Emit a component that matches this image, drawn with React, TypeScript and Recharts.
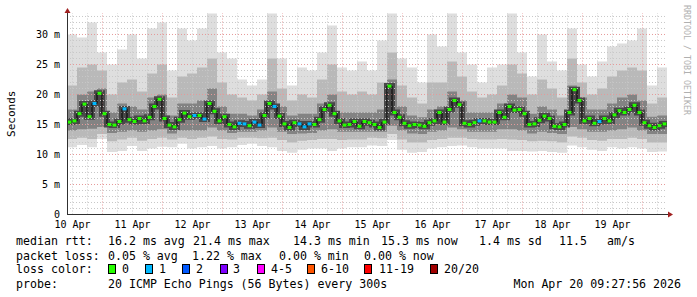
import { ComposedChart, Area, Line, XAxis, YAxis, ReferenceLine } from "recharts";

// median rtt (ms), one value per 2 hour bin, 10 days
const medianRtt = [
  15.4, 15.6, 16.8, 18.4, 16.3, 18.5, 20.2, 16.8, 15.0, 14.9, 15.5, 17.6, 15.8, 15.5, 16.0, 15.6, 16.2, 18.0, 19.2, 16.0,
  14.9, 14.6, 15.8, 16.9, 16.3, 16.5, 16.5, 15.9, 18.5, 17.2, 15.6, 16.3, 15.0, 14.6, 15.2, 15.1, 14.8, 15.4, 14.9, 16.5,
  18.5, 18.0, 16.4, 15.1, 14.5, 15.3, 15.1, 14.6, 15.1, 15.0, 15.8, 17.5, 18.2, 16.8, 15.6, 14.9, 15.0, 15.5, 14.7, 15.5,
  15.3, 15.0, 14.5, 15.4, 21.4, 17.0, 16.2, 15.2, 14.8, 15.0, 14.9, 14.7, 15.3, 15.6, 17.0, 15.4, 17.5, 19.0, 18.3, 15.2,
  15.0, 15.3, 15.6, 15.6, 15.4, 15.4, 17.0, 16.2, 18.0, 17.4, 17.5, 16.8, 15.0, 15.1, 15.7, 16.4, 16.0, 14.7, 14.6, 15.0,
  17.0, 20.8, 19.0, 15.6, 16.0, 15.2, 15.5, 16.0, 15.6, 16.6, 17.3, 17.0, 17.5, 18.2, 17.0, 15.3, 14.8, 14.5, 14.8, 15.1,
];

// bins where 1 of 20 pings was lost
const oneLossBins = [5, 11, 25, 27, 34, 35, 37, 38, 41, 46, 47, 48, 82, 106];

// smoke, one value per 4 hour bin
const smokeMin = [
  11.2, 11.6, 11.2, 12.6, 10.4, 10.6, 11.4, 10.6, 11.0, 11.3, 11.2, 11.8, 11.0, 11.2, 11.4, 11.0, 11.2, 11.6, 11.8, 11.4,
  11.2, 10.6, 10.3, 10.8, 11.0, 11.0, 10.6, 11.0, 11.2, 11.2, 11.5, 11.4, 12.4, 10.8, 10.3, 10.4, 11.0, 11.2, 11.4, 11.5,
  11.2, 11.0, 11.0, 11.0, 10.6, 10.6, 10.5, 10.6, 10.4, 10.3, 11.5, 11.2, 10.8, 10.6, 11.2, 11.0, 11.2, 11.0, 10.4, 10.5,
];
const smokeLow = [
  12.6, 12.8, 12.6, 13.4, 12.2, 12.5, 12.8, 12.3, 12.6, 12.8, 12.5, 12.8, 12.6, 12.8, 13.0, 12.6, 12.5, 12.8, 12.8, 12.7,
  12.8, 12.4, 12.0, 12.3, 12.4, 12.6, 12.6, 12.4, 12.5, 12.5, 12.8, 12.7, 13.4, 12.5, 12.0, 12.0, 12.4, 12.6, 12.8, 12.8,
  12.6, 12.5, 12.5, 12.6, 12.5, 12.4, 12.2, 12.3, 12.2, 12.0, 13.0, 12.8, 12.4, 12.3, 12.6, 12.6, 12.8, 12.6, 12.0, 12.0,
];
const smokeDarkLow = [
  14.0, 14.2, 14.3, 14.6, 13.6, 13.8, 14.0, 13.8, 14.0, 14.2, 13.5, 14.0, 14.0, 14.0, 14.5, 14.0, 13.6, 13.8, 13.8, 14.0,
  14.5, 13.8, 13.4, 13.5, 13.6, 14.0, 14.2, 13.8, 13.8, 13.8, 13.8, 13.8, 14.8, 14.0, 13.5, 13.4, 13.8, 14.0, 14.5, 14.2,
  13.8, 13.8, 13.8, 14.2, 14.2, 14.0, 13.5, 13.8, 13.6, 13.4, 14.6, 14.2, 13.8, 13.8, 14.0, 14.2, 14.5, 14.0, 13.4, 13.4,
];
const smokeDarkTop = [
  17.5, 20.0, 20.5, 21.0, 17.0, 18.5, 18.0, 17.5, 19.5, 20.0, 16.5, 18.5, 18.5, 19.0, 21.0, 18.0, 16.8, 16.8, 16.5, 17.5,
  20.5, 18.0, 16.5, 16.8, 16.8, 18.5, 20.0, 17.0, 17.0, 17.0, 17.0, 17.5, 22.5, 18.0, 16.5, 16.2, 17.5, 18.0, 20.5, 19.0,
  17.0, 17.0, 17.0, 18.5, 20.0, 19.5, 16.8, 18.0, 17.5, 16.5, 21.5, 19.5, 17.5, 17.5, 18.5, 19.5, 20.0, 19.0, 16.3, 16.5,
];
const smokeMidTop = [
  21.5, 24.5, 25.0, 24.0, 20.0, 22.0, 22.5, 20.5, 23.5, 25.0, 19.5, 23.0, 23.5, 24.5, 26.0, 22.0, 20.0, 19.5, 19.0, 20.0,
  26.0, 21.0, 19.0, 20.0, 19.5, 22.5, 25.0, 20.5, 20.0, 20.5, 20.0, 22.0, 27.0, 21.5, 19.5, 18.5, 22.0, 22.0, 25.5, 23.0,
  20.5, 19.5, 20.0, 21.5, 25.0, 23.5, 20.0, 22.5, 21.0, 19.5, 26.0, 22.0, 20.0, 21.0, 23.0, 24.0, 24.5, 24.0, 18.5, 19.5,
];
const smokeMax = [
  30.0, 29.5, 32.0, 27.0, 25.0, 27.5, 30.0, 26.0, 31.0, 32.0, 24.0, 31.0, 29.0, 31.0, 33.5, 27.0, 26.0, 22.5, 21.5, 22.5,
  33.5, 26.0, 21.5, 24.5, 24.0, 27.0, 31.5, 24.5, 24.0, 25.5, 24.0, 29.0, 33.5, 26.0, 24.5, 22.0, 30.0, 28.0, 33.5, 27.0,
  25.0, 22.0, 24.5, 25.0, 33.5, 27.0, 23.0, 30.0, 25.5, 24.0, 31.0, 25.0, 23.0, 25.5, 28.0, 28.5, 29.0, 31.0, 21.5, 24.5,
];

const dayLabels = ["10 Apr", "11 Apr", "12 Apr", "13 Apr", "14 Apr", "15 Apr", "16 Apr", "17 Apr", "18 Apr", "19 Apr"];
const yTicks = [0, 5, 10, 15, 20, 25, 30];

const lossLegend = [
  { label: "0", color: "#26ff00", box: 108, text: 122 },
  { label: "1", color: "#00b8ff", box: 145, text: 159 },
  { label: "2", color: "#0059ff", box: 182, text: 196 },
  { label: "3", color: "#7e00ff", box: 220, text: 233 },
  { label: "4-5", color: "#ff00ff", box: 257, text: 271 },
  { label: "6-10", color: "#ff5500", box: 307, text: 321 },
  { label: "11-19", color: "#ff0000", box: 364, text: 379 },
  { label: "20/20", color: "#a10000", box: 430, text: 444 },
];

const SPAN = 240; // hours shown
const FIRST_MIDNIGHT = 14.2; // hours after graph start
const Y_MAX = 33.58;

const medianRows = medianRtt.map((v, i) => ({
  t: i * 2,
  rtt: v,
  color: oneLossBins.includes(i) ? lossLegend[1].color : lossLegend[0].color,
}));
medianRows.push({ t: SPAN, rtt: medianRtt[medianRtt.length - 1], color: "" });

const smokeRows = smokeMin.map((lo, j) => ({
  t: j * 4,
  outer: [lo, smokeMax[j]],
  mid: [smokeLow[j], smokeMidTop[j]],
  core: [smokeDarkLow[j], smokeDarkTop[j]],
}));
smokeRows.push({ ...smokeRows[smokeRows.length - 1], t: SPAN });

const noonTicks = dayLabels.map((_, k) => FIRST_MIDNIGHT - 12 + 24 * k);
const majorX = dayLabels.map((_, k) => FIRST_MIDNIGHT + 24 * k);
const minorX: number[] = [];
for (let t = FIRST_MIDNIGHT - 12; t < SPAN; t += 6) {
  if (!majorX.includes(t)) minorX.push(t);
}
const minorY: number[] = [];
for (let v = 1; v < Y_MAX; v++) if (v % 5 !== 0) minorY.push(v);
const majorY = yTicks.filter((v) => v > 0);

const mono = "'DejaVu Sans Mono', monospace";

const MedianDot = (props: any) => {
  const { cx, cy, index, payload } = props;
  if (!payload.color) return <g key={`d${index}`} />;
  return <rect key={`d${index}`} x={cx + 0.5} y={cy - 1.5} width={4} height={3} fill={payload.color} />;
};

const legendRow1 = [
  [16, "median rtt:"],
  [108, "16.2 ms avg"],
  [193, "21.4 ms max"],
  [293, "14.3 ms min"],
  [381, "15.3 ms now"],
  [479, "1.4 ms sd"],
  [559, "11.5"],
  [607, "am/s"],
] as const;
const legendRow2 = [
  [16, "packet loss:"],
  [108, "0.05 % avg"],
  [192, "1.22 % max"],
  [279, "0.00 % min"],
  [364, "0.00 % now"],
] as const;

export default function App() {
  return (
    <div style={{ position: "absolute", left: 0, top: 0, width: 697, height: 297, background: "#fff" }}>
      <ComposedChart width={697} height={297} margin={{ top: 13, right: 30, bottom: 62.5, left: 0 }}>
        <XAxis
          type="number"
          dataKey="t"
          domain={[0, SPAN]}
          ticks={noonTicks}
          tickFormatter={(_v, i) => dayLabels[i]}
          height={20}
          axisLine={false}
          tickLine={false}
          tickSize={0}
          tickMargin={6}
          interval={0}
          tick={{ fill: "#000", fontSize: 10, fontFamily: mono }}
        />
        <YAxis
          type="number"
          domain={[0, Y_MAX]}
          ticks={yTicks}
          allowDataOverflow
          width={67}
          axisLine={false}
          tickLine={false}
          tickSize={0}
          tickMargin={7}
          tickFormatter={(v) => (v === 0 ? "0" : `${v} m`)}
          tick={{ fill: "#000", fontSize: 10, fontFamily: mono }}
        />
        <Area data={smokeRows} dataKey="outer" type="stepAfter" stroke="none" fill="#dedede" fillOpacity={1} isAnimationActive={false} />
        <Area data={smokeRows} dataKey="mid" type="stepAfter" stroke="none" fill="#b9b9b9" fillOpacity={1} isAnimationActive={false} />
        <Area data={smokeRows} dataKey="core" type="stepAfter" stroke="none" fill="#838383" fillOpacity={1} isAnimationActive={false} />
        {/* darkest smoke hugging the median */}
        <Line
          data={medianRows}
          dataKey="rtt"
          type="stepAfter"
          stroke="#484848"
          strokeWidth={6}
          dot={false}
          activeDot={false}
          isAnimationActive={false}
        />
        {minorY.map((v) => (
          <ReferenceLine key={`my${v}`} y={v} stroke="#c8c8c8" strokeDasharray="1 2" />
        ))}
        {minorX.map((v) => (
          <ReferenceLine key={`mx${v}`} x={v} stroke="#c8c8c8" strokeDasharray="1 2" />
        ))}
        {majorY.map((v) => (
          <ReferenceLine key={`My${v}`} y={v} stroke="#e69a9a" strokeDasharray="1 2" />
        ))}
        {majorX.map((v) => (
          <ReferenceLine key={`Mx${v}`} x={v} stroke="#e69a9a" strokeDasharray="1 2" />
        ))}
        <Line
          data={medianRows}
          dataKey="rtt"
          type="stepAfter"
          stroke="#000"
          strokeWidth={1}
          dot={MedianDot}
          activeDot={false}
          isAnimationActive={false}
        />
      </ComposedChart>
      <svg width={697} height={297} style={{ position: "absolute", left: 0, top: 0 }}>
        <line x1={67.5} y1={215} x2={67.5} y2={11} stroke="#303030" />
        <line x1={67} y1={214.5} x2={669} y2={214.5} stroke="#303030" />
        <polygon points="64.5,13 70.5,13 67.5,8" fill="#a02020" />
        <polygon points="668,211.5 668,217.5 673,214.5" fill="#a02020" />
        <text transform="translate(15,113.75) rotate(-90)" textAnchor="middle" fontFamily={mono} fontSize={11} fill="#000">
          Seconds
        </text>
        <text transform="translate(684,5) rotate(90)" fontFamily={mono} fontSize={8.3} fill="#b0b0b0">
          RRDTOOL / TOBI OETIKER
        </text>
        <g fontFamily={mono} fontSize={11.6} fill="#000">
          {legendRow1.map(([x, s]) => (
            <text key={s} x={x} y={245}>{s}</text>
          ))}
          {legendRow2.map(([x, s]) => (
            <text key={s} x={x} y={260}>{s}</text>
          ))}
          <text x={16} y={273}>loss color:</text>
          {lossLegend.map((l) => (
            <g key={l.label}>
              <rect x={l.box + 0.5} y={264.5} width={7} height={9} fill={l.color} stroke="#000" />
              <text x={l.text} y={273}>{l.label}</text>
            </g>
          ))}
          <text x={16} y={288}>probe:</text>
          <text x={108} y={288}>20 ICMP Echo Pings (56 Bytes) every 300s</text>
          <text x={681} y={288} textAnchor="end">Mon Apr 20 09:27:56 2026</text>
        </g>
      </svg>
    </div>
  );
}
